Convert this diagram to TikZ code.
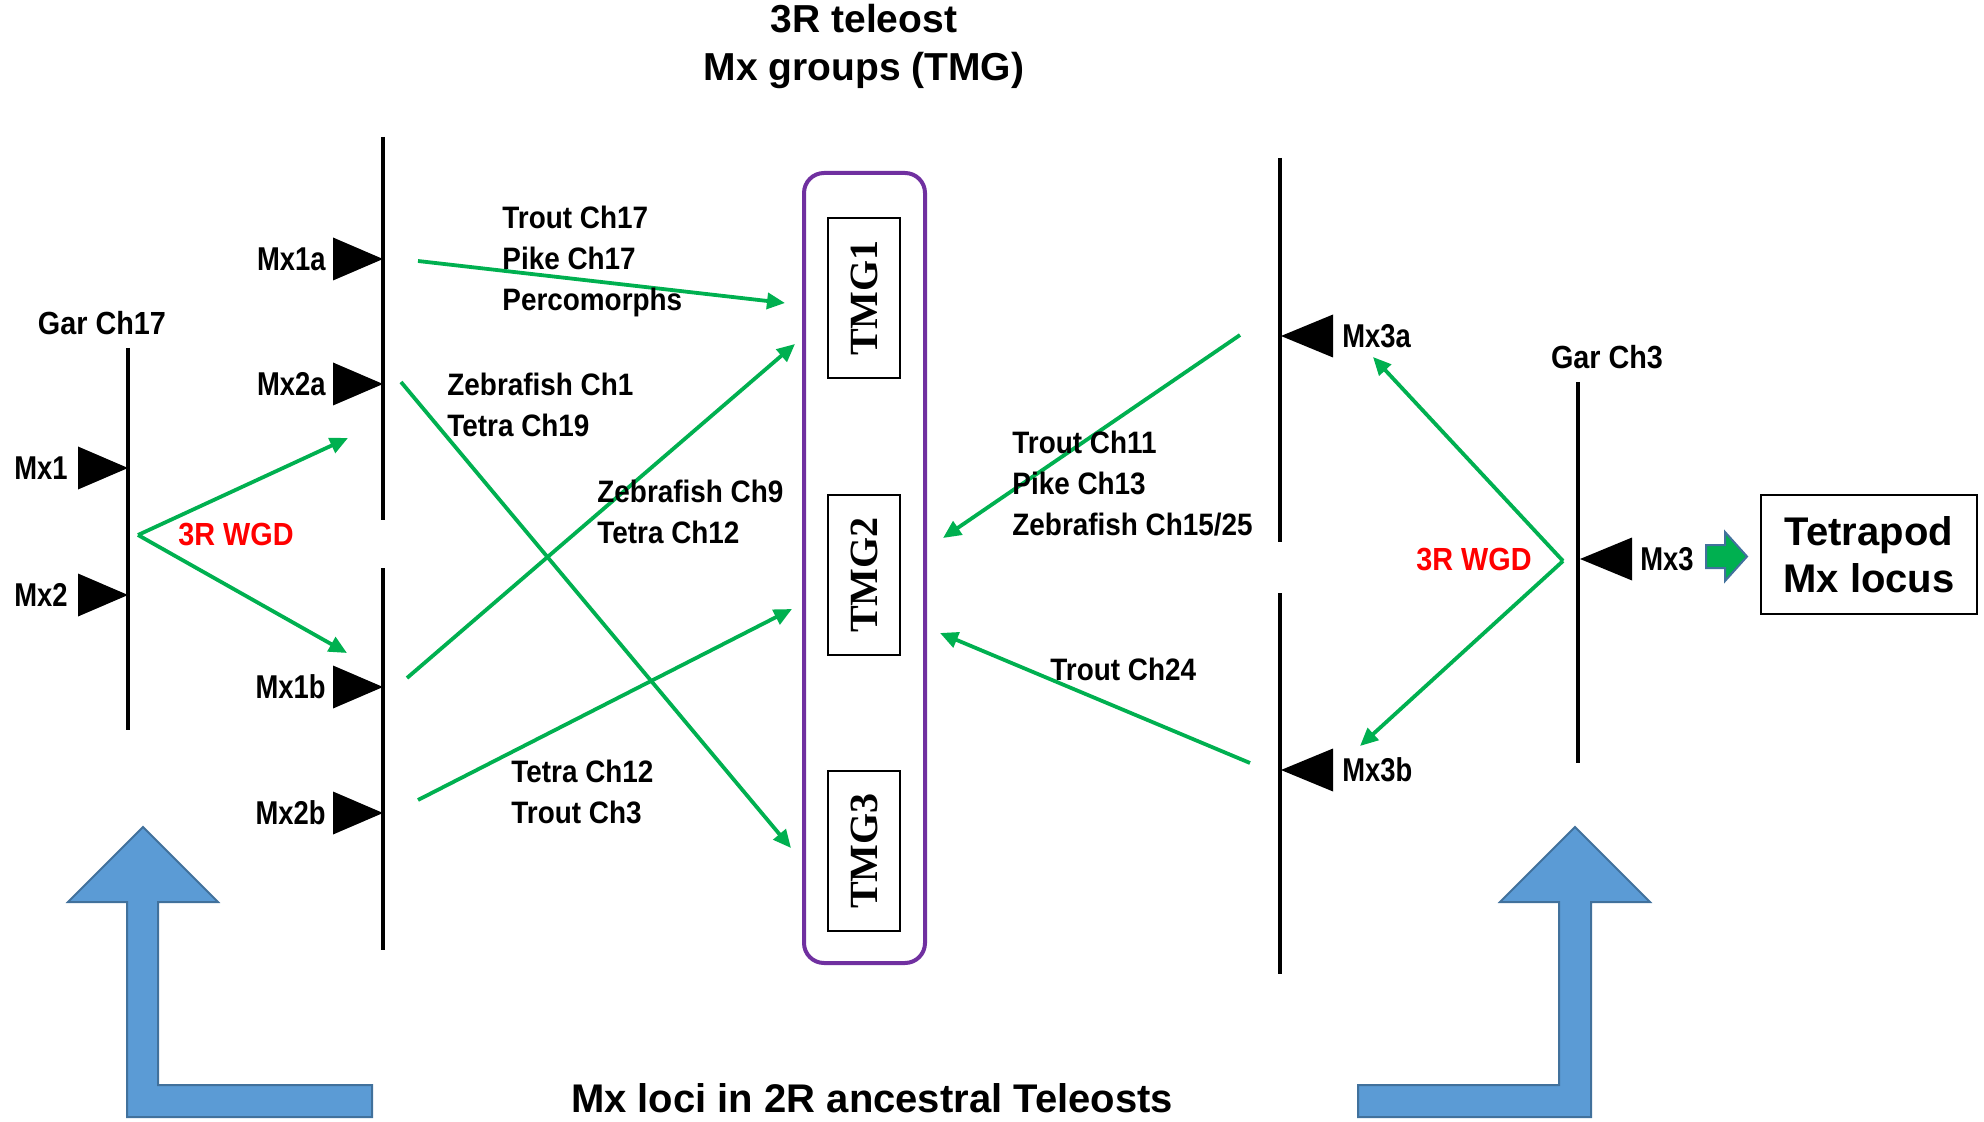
\documentclass[tikz,border=0pt]{standalone}
\usepackage{fontspec}
\setmainfont{Liberation Sans}
\newfontfamily\condfont{Liberation Sans}[FakeStretch=0.9]
\newfontfamily\mxfont{Liberation Sans}[FakeStretch=0.83]
\newfontfamily\tmgfont{Liberation Serif}
\usepackage{xcolor}
\usepackage{tikz}
\usetikzlibrary{shapes,arrows.meta}
\definecolor{wgdgreen}{RGB}{0,176,80}
\definecolor{tmgpurple}{RGB}{112,48,160}
\definecolor{blockblue}{RGB}{91,155,213}
\definecolor{blockedge}{RGB}{65,113,156}
\tikzstyle{chrom} = [draw, line width=2pt]
\tikzstyle{gene} = [fill=black]
\tikzstyle{mxlabel} = [inner sep=0, font=\mxfont\bfseries\fontsize{16.5}{20}\selectfont]
\tikzstyle{species} = [inner sep=0, align=left, anchor=west, font=\condfont\bfseries\fontsize{15.5}{20.5}\selectfont]
\tikzstyle{chromlabel} = [inner sep=0, font=\condfont\bfseries\fontsize{16}{20}\selectfont]
\tikzstyle{wgd} = [chromlabel, text=red]
\tikzstyle{tmg} = [draw, line width=1pt, rotate=90, minimum width=80pt, minimum height=36pt, inner sep=0, font=\tmgfont\bfseries\fontsize{20}{24}\selectfont]
\tikzstyle{heading} = [align=center, font=\bfseries\fontsize{19.5}{24}\selectfont]
\tikzstyle{line} = [draw, wgdgreen, line width=1.9pt, -{Triangle[length=9pt,width=8pt]}]
\tikzstyle{bigarrow} = [fill=blockblue, draw=blockedge, line width=1pt]

\begin{document}
\begin{tikzpicture}[x=0.5pt, y=-0.5pt]
    \useasboundingbox (0,0) rectangle (1984,1122);

    % headings
    \node [heading] (title) at (864,47) {3R teleost\\Mx groups (TMG)};
    \node [heading, font=\bfseries\fontsize{20}{24}\selectfont] (ancestral) at (872,1098) {Mx loci in 2R ancestral Teleosts};

    % chromosomes
    \draw [chrom] (128,348) -- (128,730);
    \draw [chrom] (383,137) -- (383,520);
    \draw [chrom] (383,568) -- (383,950);
    \draw [chrom] (1280,158) -- (1280,542);
    \draw [chrom] (1280,593) -- (1280,974);
    \draw [chrom] (1578,382) -- (1578,763);
    \node [chromlabel] (garch17) at (102,323) {Gar Ch17};
    \node [chromlabel] (garch3) at (1607,357) {Gar Ch3};

    % Mx genes
    \foreach \gx/\gy in {128/468,128/595,383/259,383/384,383/687,383/813}
        \fill [gene] (\gx,\gy) -- ++(-50,-21.5) -- ++(0,43) -- cycle;
    \foreach \gx/\gy in {1281/336,1281/770,1580/559}
        \fill [gene] (\gx,\gy) -- ++(52,-21.5) -- ++(0,43) -- cycle;
    \node [mxlabel, anchor=east] (mx1) at (68,468) {Mx1};
    \node [mxlabel, anchor=east] (mx2) at (68,595) {Mx2};
    \node [mxlabel, anchor=east] (mx1a) at (326,259) {Mx1a};
    \node [mxlabel, anchor=east] (mx2a) at (326,384) {Mx2a};
    \node [mxlabel, anchor=east] (mx1b) at (326,687) {Mx1b};
    \node [mxlabel, anchor=east] (mx2b) at (326,813) {Mx2b};
    \node [mxlabel, anchor=west] (mx3a) at (1342,336) {Mx3a};
    \node [mxlabel, anchor=west] (mx3b) at (1342,770) {Mx3b};
    \node [mxlabel, anchor=west] (mx3) at (1640,559) {Mx3};

    % TMG column
    \node [draw=tmgpurple, line width=2pt, rounded corners=10pt, minimum width=60.5pt, minimum height=395pt] (tmgbox) at (864.5,568) {};
    \node [tmg] (tmg1) at (864,298) {TMG1};
    \node [tmg] (tmg2) at (864,575) {TMG2};
    \node [tmg] (tmg3) at (864,851) {TMG3};

    % tetrapod
    \node [draw, line width=1pt, minimum width=108pt, minimum height=59.5pt, heading, font=\bfseries\fontsize{20}{23.5}\selectfont] (tetrapod) at (1869,554.5) {Tetrapod\\Mx locus};
    \filldraw [fill=wgdgreen, draw=blockedge, line width=1pt] (1706,545) -- (1725,545) -- (1725,532) -- (1747,556.5) -- (1725,581) -- (1725,568) -- (1706,568) -- cycle;

    % duplication
    \coordinate (wgdl) at (138,535);
    \coordinate (wgdl up) at (348,438);
    \coordinate (wgdl down) at (347,653);
    \coordinate (wgdr) at (1563,561);
    \coordinate (wgdr up) at (1373,357);
    \coordinate (wgdr down) at (1360,746);
    \node [wgd] (wgdleft) at (236,535) {3R WGD};
    \node [wgd] (wgdright) at (1474,560) {3R WGD};
    \path [line] (wgdl) -- (wgdl up);
    \path [line] (wgdl) -- (wgdl down);
    \path [line] (wgdr) -- (wgdr up);
    \path [line] (wgdr) -- (wgdr down);

    % links to TMG
    \coordinate (mx1a out) at (418,261);
    \coordinate (mx2a out) at (401,382);
    \coordinate (mx1b out) at (407,678);
    \coordinate (mx2b out) at (418,800);
    \coordinate (mx3a out) at (1240,335);
    \coordinate (mx3b out) at (1250,763);
    \coordinate (tmg1 in) at (785,303);
    \coordinate (tmg1 low) at (795,344);
    \coordinate (tmg2 in) at (792,609);
    \coordinate (tmg3 in) at (791,848);
    \coordinate (tmg2 right) at (943,538);
    \coordinate (tmg2 lowright) at (940,633);
    \path [line] (mx1a out) -- (tmg1 in);
    \path [line] (mx2a out) -- (tmg3 in);
    \path [line] (mx1b out) -- (tmg1 low);
    \path [line] (mx2b out) -- (tmg2 in);
    \path [line] (mx3a out) -- (tmg2 right);
    \path [line] (mx3b out) -- (tmg2 lowright);

    \node [species] (trout17) at (502,261) {Trout Ch17\\Pike Ch17\\Percomorphs};
    \node [species] (zebra1) at (447,405) {Zebrafish Ch1\\Tetra Ch19};
    \node [species] (zebra9) at (597,512) {Zebrafish Ch9\\Tetra Ch12};
    \node [species] (tetra12) at (511,792) {Tetra Ch12\\Trout Ch3};
    \node [species] (trout11) at (1012,484) {Trout Ch11\\Pike Ch13\\Zebrafish Ch15/25};
    \node [species] (trout24) at (1050,669) {Trout Ch24};

    % big arrows
    \filldraw [bigarrow] (143,827) -- (218,902) -- (158,902) -- (158,1085) -- (372,1085) -- (372,1117) -- (127,1117) -- (127,902) -- (68,902) -- cycle;
    \filldraw [bigarrow] (1575,827) -- (1650,902) -- (1591,902) -- (1591,1117) -- (1358,1117) -- (1358,1085) -- (1559,1085) -- (1559,902) -- (1500,902) -- cycle;
\end{tikzpicture}
\end{document}
